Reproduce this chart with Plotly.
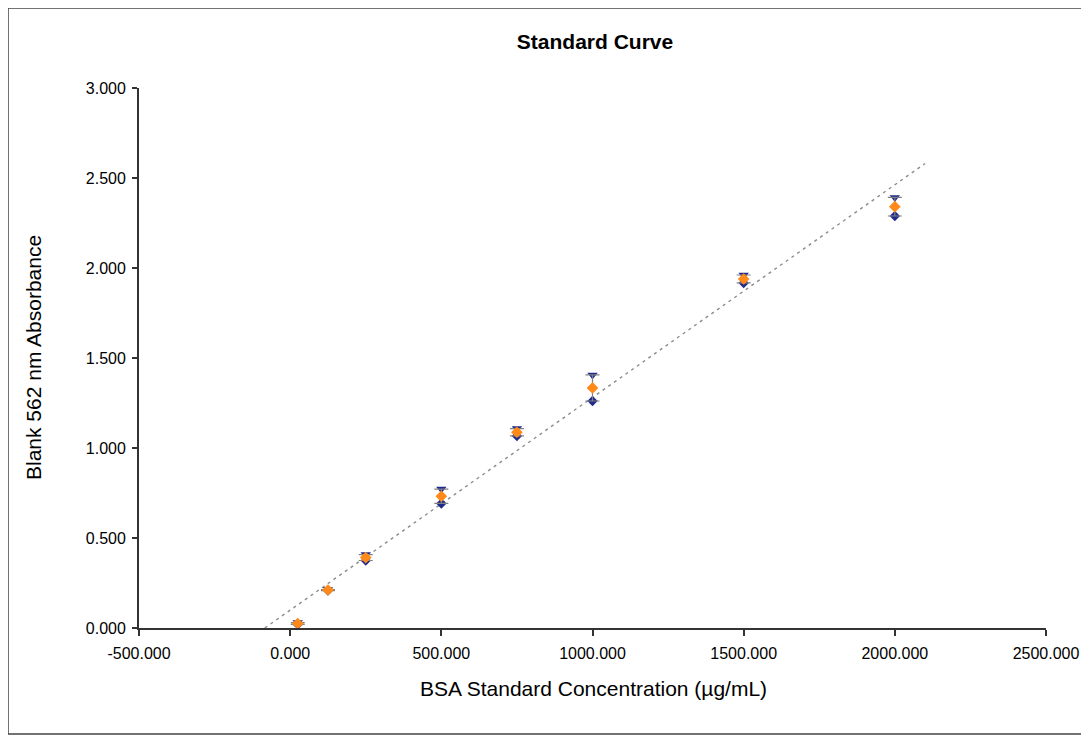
import numpy as np
import plotly.graph_objects as go

conc = [25, 125, 250, 500, 750, 1000, 1500, 2000]
rep_a = [0.020, 0.208, 0.375, 0.692, 1.067, 1.261, 1.917, 2.289]
rep_b = [0.030, 0.214, 0.408, 0.772, 1.108, 1.406, 1.961, 2.392]
mean_abs = [(a + b) / 2 for a, b in zip(rep_a, rep_b)]

x_ticks = [-500, 0, 500, 1000, 1500, 2000, 2500]
x_labels = ["-500.000", "0.000", "500.000", "1000.000", "1500.000", "2000.000", "2500.000"]
y_ticks = [0, 0.5, 1.0, 1.5, 2.0, 2.5, 3.0]
y_labels = ["0.000", "0.500", "1.000", "1.500", "2.000", "2.500", "3.000"]

slope, intercept = np.polyfit(conc, mean_abs, 1)
x_start = -intercept / slope
trend_x = [x_start, 2100]
trend_y = [slope * v + intercept for v in trend_x]

fig = go.Figure()
fig.add_trace(go.Scatter(x=trend_x, y=trend_y, mode="lines",
                         line=dict(color="#8c8c8c", width=1.4, dash="3px,4px"),
                         showlegend=False, hoverinfo="skip"))
err_plus = [max(a, b) - m for a, b, m in zip(rep_a, rep_b, mean_abs)]
err_minus = [m - min(a, b) for a, b, m in zip(rep_a, rep_b, mean_abs)]
fig.add_trace(go.Scatter(x=conc, y=rep_a, mode="markers",
                         marker=dict(symbol="diamond", size=8, color="#1f2a8c"),
                         showlegend=False))
fig.add_trace(go.Scatter(x=conc, y=rep_b, mode="markers",
                         marker=dict(symbol="triangle-down", size=9, color="#1f2a8c"),
                         showlegend=False))
fig.add_trace(go.Scatter(x=conc, y=mean_abs, mode="markers",
                         marker=dict(symbol="diamond", size=9, color="#ff8a1a"),
                         error_y=dict(type="data", symmetric=False, array=err_plus,
                                      arrayminus=err_minus, color="#808080",
                                      thickness=1.2, width=7),
                         showlegend=False))

font_family = "Liberation Sans, Arial, sans-serif"
L, T, PW, PH = 131, 80, 907, 540
W, H = 1089, 736
fig.update_layout(
    width=W, height=H,
    margin=dict(l=L, r=W - L - PW, t=T, b=H - T - PH),
    paper_bgcolor="white", plot_bgcolor="white",
    font=dict(family=font_family, color="black", size=16),
    title=dict(text="<b>Standard Curve</b>", x=587 / W, xanchor="center",
               y=1 - 34 / H, yanchor="middle", font=dict(size=21, family=font_family)),
    xaxis=dict(range=[-500, 2500], tickvals=x_ticks, ticktext=x_labels,
               showgrid=False, zeroline=False, showline=True, linecolor="#333333",
               linewidth=1.8, ticks="outside", ticklen=6, tickcolor="#333333",
               tickwidth=1.5, tickfont=dict(size=16), ticklabelstandoff=4),
    yaxis=dict(range=[0, 3], tickvals=y_ticks, ticktext=y_labels,
               showgrid=False, zeroline=False, showline=True, linecolor="#333333",
               linewidth=1.8, ticks="outside", ticklen=5, tickcolor="#333333",
               tickwidth=1.5, tickfont=dict(size=16), ticklabelstandoff=3),
    annotations=[
        dict(text="BSA Standard Concentration (µg/mL)", xref="paper", yref="paper",
             x=(585 - L) / PW, y=-(680 - T - PH) / PH, xanchor="center", yanchor="middle",
             showarrow=False, font=dict(size=21)),
        dict(text="Blank 562 nm Absorbance", xref="paper", yref="paper",
             x=(25 - L) / PW, y=0.5, xanchor="center", yanchor="middle", textangle=-90,
             showarrow=False, font=dict(size=21)),
    ],
    shapes=[dict(type="rect", xref="paper", yref="paper",
                 x0=-L / PW, x1=1 + 70 / PW, y0=-(726 - T - PH) / PH, y1=1 + T / PH,
                 line=dict(color="#444444", width=1.5))],
)
fig.write_html("out.html")
